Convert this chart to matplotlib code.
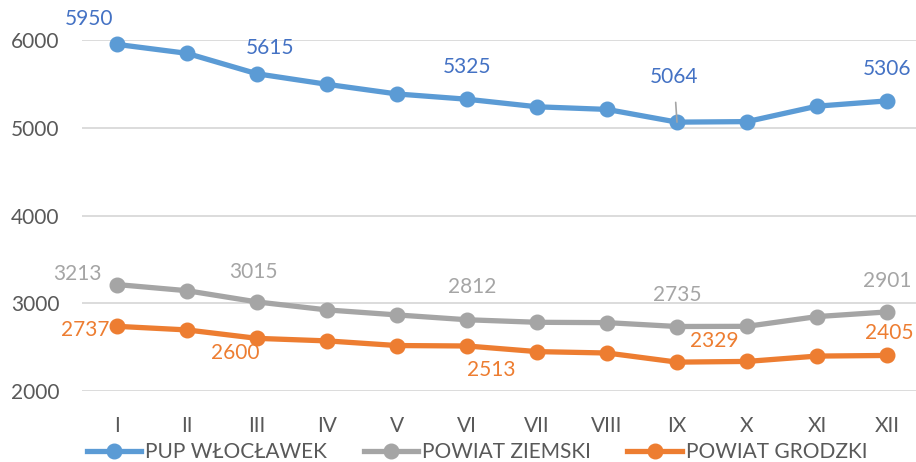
import matplotlib
matplotlib.use("Agg")
import matplotlib.pyplot as plt

plt.rcParams["font.family"] = ["Lato", "DejaVu Sans"]

months = ["I", "II", "III", "IV", "V", "VI", "VII", "VIII", "IX", "X", "XI", "XII"]
pup = [5950, 5848, 5615, 5495, 5385, 5325, 5239, 5209, 5064, 5070, 5246, 5306]
ziemski = [3213, 3143, 3015, 2924, 2867, 2812, 2783, 2779, 2735, 2737, 2848, 2901]
grodzki = [2737, 2696, 2600, 2571, 2518, 2513, 2449, 2433, 2329, 2337, 2398, 2405]
names = ["PUP WŁOCŁAWEK", "POWIAT ZIEMSKI", "POWIAT GRODZKI"]

line_colors = ["#5B9BD5", "#A5A5A5", "#ED7D31"]
label_colors = ["#4472C4", "#A5A5A5", "#ED7D31"]

# labelled points: index -> (dx, dy) offset in pixels
pup_labels = {0: (-28, 25), 2: (13, 26), 5: (0, 32), 8: (-3, 45), 11: (0, 32)}
ziem_labels = {0: (-40, 11), 2: (-4, 30), 5: (5, 33), 8: (0, 32), 11: (0, 31)}
grod_labels = {0: (-32, -4), 2: (-22, -15), 5: (24, -24), 8: (37, 21), 11: (2, 22)}

fs = 15

fig = plt.figure(figsize=(9.16, 4.62), dpi=100)
ax = fig.add_axes([82 / 916, 1 - 391 / 462, 834 / 916, 351 / 462])

x = list(range(len(months)))
for vals, lc, tc, lab, nm in [(pup, line_colors[0], label_colors[0], pup_labels, names[0]),
                              (ziemski, line_colors[1], label_colors[1], ziem_labels, names[1]),
                              (grodzki, line_colors[2], label_colors[2], grod_labels, names[2])]:
    ax.plot(x, vals, color=lc, lw=3.8, marker="o", ms=10.5, label=nm, clip_on=False, zorder=3)
    for i, (dx, dy) in lab.items():
        if vals is pup and i == 8:
            ax.annotate(str(vals[i]), (x[i], vals[i]), xytext=(dx, dy), textcoords="offset pixels",
                        ha="center", va="center", color=tc, fontsize=fs,
                        arrowprops=dict(arrowstyle="-", color="#A5A5A5", lw=1.2,
                                        shrinkA=9, shrinkB=0))
        else:
            ax.annotate(str(vals[i]), (x[i], vals[i]), xytext=(dx, dy), textcoords="offset pixels",
                        ha="center", va="center", color=tc, fontsize=fs)

ax.set_ylim(2000, 6000)
ax.set_yticks([2000, 3000, 4000, 5000, 6000])
ax.set_xlim(-0.5, -0.5 + 834 / 70)
ax.set_xticks(x)
ax.set_xticklabels(months)
ax.grid(axis="y", color="#D9D9D9", lw=1.3)
ax.set_axisbelow(True)
for s in ax.spines.values():
    s.set_visible(False)
ax.tick_params(length=0, labelsize=fs, labelcolor="#595959")
ax.tick_params(axis="y", pad=16)
ax.tick_params(axis="x", pad=18)

fig.legend(loc="center", bbox_to_anchor=(0.521, 1 - 452 / 462), ncol=3, frameon=False,
           fontsize=fs, handlelength=2.6, columnspacing=1.75, handletextpad=0.2,
           labelcolor="#595959", borderpad=0)

fig.savefig("out.png", dpi=100)
